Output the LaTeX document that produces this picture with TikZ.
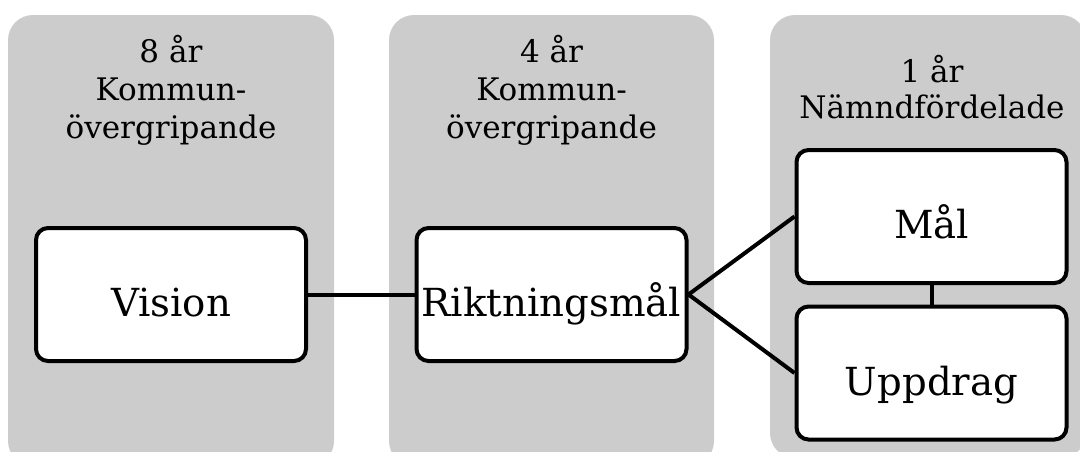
\documentclass[tikz,border=0pt]{standalone}
\usepackage{fontspec}
\setmainfont{DejaVu Serif}
\definecolor{panelgray}{RGB}{204,204,204}
\begin{document}
\begin{tikzpicture}[x=0.75pt,y=-0.75pt,
  panel/.style={fill=panelgray, rounded corners=18.75pt},
  box/.style={draw=black, line width=3pt, fill=white, rounded corners=9pt,
    minimum width=202.5pt, minimum height=99.75pt, inner sep=0pt,
    text height=33pt, text depth=0pt, font=\fontsize{29}{35}\selectfont},
  head/.style={anchor=base, inner sep=0pt, font=\fontsize{23.3}{28}\selectfont},
  link/.style={line width=3pt}]
\clip (0,0) rectangle (1080,451);
% panels
\fill[panel] (8,15) rectangle (334,466);
\fill[panel] (389,15) rectangle (714,466);
\fill[panel] (770,15) rectangle (1086,458);
% headers
\node[head] (h1a) at (171,62) {8 år};
\node[head] (h1b) at (171,100) {Kommun-};
\node[head] (h1c) at (171,138) {övergripande};
\node[head] (h2a) at (551.5,62) {4 år};
\node[head] (h2b) at (551.5,100) {Kommun-};
\node[head] (h2c) at (551.5,138) {övergripande};
\node[head] (h3a) at (932,82) {1 år};
\node[head] (h3b) at (932,118) {Nämndfördelade};
% boxes
\node[box] (vis) at (171,294.5) {Vision};
\node[box] (rik) at (551.5,294.5) {Riktningsmål};
\node[box] (mal) at (931.5,216.5) {Mål};
\node[box] (upp) at (931.5,373) {Uppdrag};
% connectors
\draw[link] (vis.east) -- (rik.west);
\draw[link] (rik.east) -- (mal.west);
\draw[link] (rik.east) -- (upp.west);
\draw[link] (mal.south) -- (upp.north);
\end{tikzpicture}
\end{document}
